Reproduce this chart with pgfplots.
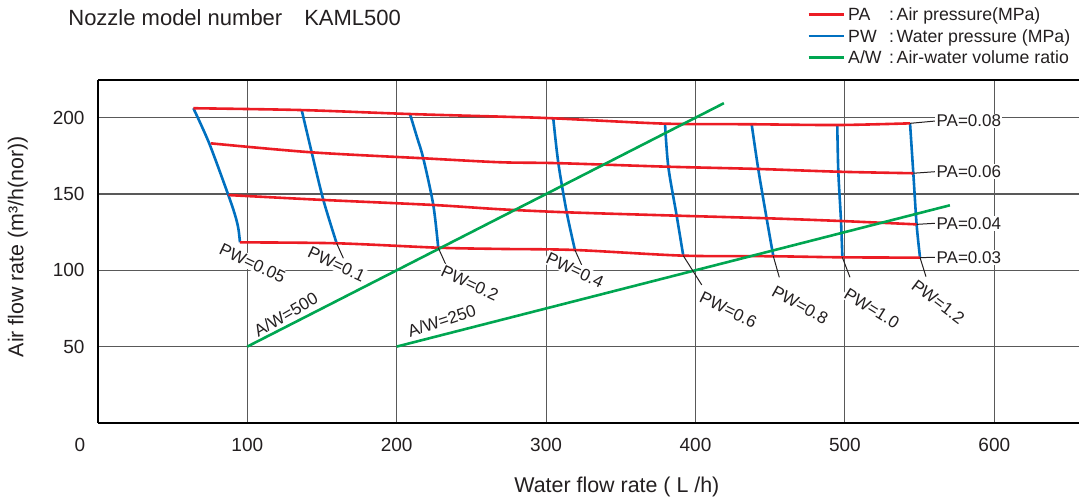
\documentclass[border=0pt]{standalone}
\usepackage{fontspec}
\setmainfont{Liberation Sans}
\usepackage{pgfplots}
\pgfplotsset{compat=1.18}
\definecolor{pared}{RGB}{236,28,36}
\definecolor{pwblue}{RGB}{0,112,192}
\definecolor{awgreen}{RGB}{0,166,81}
\definecolor{txt}{RGB}{35,31,32}
\begin{document}
\begin{tikzpicture}[font=\fontsize{8.5bp}{10bp}\selectfont, text=txt,
  lbl/.style={fill=white, inner sep=0.6bp, font=\fontsize{8.5bp}{10bp}\selectfont},
  lead/.style={line width=0.5bp, txt}]
\useasboundingbox (0,0) rectangle (539.5bp,251bp);
\begin{axis}[
  at={(48.95bp,39.55bp)}, anchor=south west,
  scale only axis, width=490.55bp, height=171.45bp,
  xmin=0, xmax=656.7, ymin=0, ymax=224.7,
  axis x line=box, axis y line*=left,
  axis line style={line width=1bp, black},
  xtick={100,200,...,600}, ytick={50,100,150,200},
  major tick length=0pt,
  grid=major, major grid style={line width=0.55bp, black!65},
  ticklabel style={font=\fontsize{9.5bp}{11bp}\selectfont, inner sep=0pt, text=txt},
  xticklabel style={anchor=center, yshift=-11bp},
  yticklabel style={anchor=east, xshift=-6.5bp},
  /pgf/number format/assume math mode=true,
  clip=false,
  every axis title shift=0pt,
  title={Nozzle model number\hspace{11bp}KAML500},
  title style={at={(axis description cs:-0.0305,1.1575)}, anchor=base west,
    inner sep=0pt, font=\fontsize{11bp}{13bp}\selectfont},
  xlabel={Water flow rate ( L /h)},
  xlabel style={at={([yshift=-32bp]axis description cs:0.529,0)}, anchor=center,
    font=\fontsize{10.7bp}{12bp}\selectfont},
  ylabel={Air flow rate (m³/h(nor))},
  ylabel style={at={([xshift=-40bp]axis description cs:0,0.514)}, anchor=center,
    font=\fontsize{10.7bp}{12bp}\selectfont},
  legend style={at={(axis description cs:0.7228,1.2158)}, anchor=north west,
    draw=none, fill=none, inner sep=0pt, row sep=0pt,
    font=\fontsize{8.85bp}{10bp}\selectfont,
    nodes={inner sep=0pt, text height=7bp, text depth=3.85bp},
    cells={anchor=base west},
    /tikz/every odd column/.append style={column sep=1.6bp}},
  legend image code/.code={\draw[#1] (0bp,3bp) -- (17.5bp,3bp);},
  pa/.style={pared, line width=1.3bp, smooth, no markers, forget plot},
  pw/.style={pwblue, line width=1.3bp, smooth, no markers, forget plot},
  aw/.style={awgreen, line width=1.3bp, no markers, forget plot},
]
\addlegendimage{pared, line width=1.3bp}
\addlegendentry{\makebox[20.5bp][l]{PA}:\hspace{1.3bp}Air pressure(MPa)}
\addlegendimage{pwblue, line width=1.3bp}
\addlegendentry{\makebox[20.5bp][l]{PW}:\hspace{1.3bp}Water pressure (MPa)}
\addlegendimage{awgreen, line width=1.3bp}
\addlegendentry{\makebox[20.5bp][l]{A/W}:\hspace{1.3bp}Air-water volume ratio}

% water pressure curves
\addplot[pw] coordinates {(63.9,206.2) (74.5,183.2) (87.3,149.3) (91.8,136.2) (94.0,127.5) (95.1,118.3)};
\addplot[pw] coordinates {(136.4,205.0) (143.1,177.3) (150.9,146.1) (159.8,117.7)};
\addplot[pw] coordinates {(208.9,202.4) (213.5,187.5) (217.8,173.4) (224.5,142.8) (227.8,114.8)};
\addplot[pw] coordinates {(304.8,199.6) (308.2,170.2) (313.8,138.0) (319.3,113.3)};
\addplot[pw] coordinates {(379.6,196.1) (381.8,167.9) (387.4,135.8) (391.8,109.6)};
\addplot[pw] coordinates {(437.6,195.7) (442.0,166.4) (447.6,134.1) (452.1,109.2)};
\addplot[pw] coordinates {(494.9,195.3) (495.6,164.6) (497.4,132.3) (498.3,108.5)};
\addplot[pw] coordinates {(543.6,196.3) (545.8,163.6) (548.0,130.1) (550.3,108.3)};

% air pressure curves
\addplot[pa] coordinates {(63.9,206.2) (136.4,205.0) (208.9,202.4) (269.2,200.7) (304.8,199.6) (379.6,196.1) (437.6,195.7) (495.6,195.2) (543.6,196.3)};
\addplot[pa] coordinates {(75.5,183.2) (143.1,177.3) (217.8,173.4) (269.2,170.8) (308.2,170.2) (380.7,167.9) (442.0,166.4) (495.6,164.6) (545.8,163.6)};
\addplot[pa] coordinates {(87.3,149.3) (150.9,146.1) (224.5,142.8) (269.2,140.0) (313.8,138.0) (387.4,135.8) (447.6,134.1) (497.4,132.3) (548.0,130.1)};
\addplot[pa] coordinates {(95.1,118.3) (159.8,117.7) (227.8,114.8) (269.2,114.0) (319.3,113.3) (391.8,109.6) (452.1,109.2) (498.3,108.5) (550.3,108.3)};

% air-water volume ratio lines
\addplot[aw] coordinates {(100,50) (419,209.5)};
\addplot[aw] coordinates {(200,50) (570.3,142.6)};

% leader lines
\draw[lead] (axis cs:543.6,196.3) -- (axis cs:560.3,197.8);
\draw[lead] (axis cs:545.8,163.6) -- (axis cs:560.3,164.6);
\draw[lead] (axis cs:548.0,130.1) -- (axis cs:560.3,130.8);
\draw[lead] (axis cs:550.3,108.3) -- (axis cs:560.3,108.5);
\draw[lead] (axis cs:159.8,117.7) -- (axis cs:164.3,107.9);
\draw[lead] (axis cs:227.8,114.8) -- (axis cs:233.5,102.4);
\draw[lead] (axis cs:319.3,113.3) -- (axis cs:323.8,103.5);
\draw[lead] (axis cs:391.8,109.6) -- (axis cs:404.2,90.4);
\draw[lead] (axis cs:452.1,109.2) -- (axis cs:456.1,95.4);
\draw[lead] (axis cs:498.3,108.5) -- (axis cs:503.4,95.4);
\draw[lead] (axis cs:550.3,108.3) -- (axis cs:554.3,95.8);

% labels
\node[lbl, anchor=west] at (axis cs:560.3,197.8) {PA=0.08};
\node[lbl, anchor=west] at (axis cs:560.3,164.6) {PA=0.06};
\node[lbl, anchor=west] at (axis cs:560.3,130.8) {PA=0.04};
\node[lbl, anchor=west] at (axis cs:560.3,108.5) {PA=0.03};
\node[lbl, rotate=-25] at (axis cs:103.5,104.6) {PW=0.05};
\node[lbl, rotate=-25] at (axis cs:159.8,104.0) {PW=0.1};
\node[lbl, rotate=-25] at (axis cs:249.0,91.5) {PW=0.2};
\node[lbl, rotate=-25] at (axis cs:319.3,100.2) {PW=0.4};
\node[lbl, rotate=-26] at (axis cs:422.0,74.0) {PW=0.6};
\node[lbl, rotate=-29] at (axis cs:470.0,77.3) {PW=0.8};
\node[lbl, rotate=-32] at (axis cs:518.0,75.1) {PW=1.0};
\node[lbl, rotate=-37] at (axis cs:562.5,79.4) {PW=1.2};
\node[lbl, rotate=30] at (axis cs:125.8,71.2) {A/W=500};
\node[lbl, rotate=18] at (axis cs:230.1,66.9) {A/W=250};
\node[inner sep=0pt, font=\fontsize{9.5bp}{11bp}\selectfont] at ([xshift=-9bp,yshift=-11bp]rel axis cs:0,0) {0};
\end{axis}
\end{tikzpicture}
\end{document}
